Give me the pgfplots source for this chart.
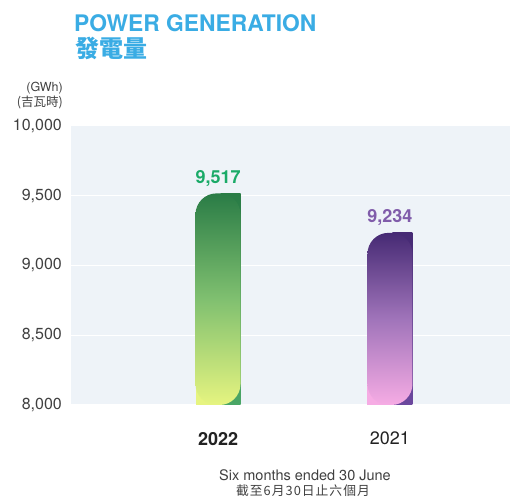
\documentclass[border=0pt]{standalone}
\usepackage{pgfplots}
\pgfplotsset{compat=1.18}
\usepackage{fontspec}
\setmainfont{TeX Gyre Heros}
\newfontfamily\cjk{Noto Sans CJK TC}
\definecolor{titleblue}{RGB}{58,172,228}
\definecolor{axisbg}{RGB}{238,243,248}
\definecolor{ticktext}{RGB}{64,64,64}
\definecolor{labeltext}{RGB}{34,34,34}
\definecolor{gtop}{RGB}{42,124,70}
\definecolor{gmid}{RGB}{128,192,112}
\definecolor{gbot}{RGB}{230,244,128}
\definecolor{gcorner}{RGB}{74,166,102}
\definecolor{gtext}{RGB}{26,170,104}
\definecolor{ptop}{RGB}{70,42,116}
\definecolor{pmid}{RGB}{160,116,186}
\definecolor{pbot}{RGB}{246,172,228}
\definecolor{pcorner}{RGB}{108,72,158}
\definecolor{ptext}{RGB}{128,92,170}
\newcommand{\cjksp}{\kern1pt}
\begin{document}
\begin{tikzpicture}[x=1pt,y=1pt]
\useasboundingbox (0,0) rectangle (510,497);
\begin{axis}[
  at={(71pt,92pt)}, anchor=south west,
  scale only axis, width=439pt, height=279pt,
  xmin=-0.855, xmax=1.698,
  ymin=0, ymax=2000,
  every axis plot/.append style={y filter/.expression={y-8000}},
  axis background/.style={fill=axisbg},
  axis line style={draw=none},
  major tick length=0pt,
  ytick={0,500,1000,1500,2000},
  yticklabels={{8,000},{8,500},{9,000},{9,500},{10,000}},
  ymajorgrids, grid style={white, line width=1pt},
  xtick={0,1}, xticklabels={\textbf{2022},2021},
  yticklabel style={font=\fontsize{16}{16}\selectfont, text=ticktext, inner sep=0pt, xshift=-9pt},
  xticklabel style={font=\fontsize{18}{18}\selectfont, text=labeltext, inner sep=0pt, yshift=-27pt, anchor=north},
]
% 2022 (green)
\addplot[ybar, bar width=20pt, bar shift=12.5pt, draw=none, top color=gtop, bottom color=gcorner] coordinates {(0,9517)};
\addplot[ybar, bar width=20pt, bar shift=-12.5pt, draw=none, fill=gbot] coordinates {(0,8300)};
\addplot[ybar, bar width=45pt, bar shift=0pt, draw=none, rounded corners=21pt,
  top color=gtop, bottom color=gbot, middle color=gmid,
  nodes near coords={9,517},
  every node near coord/.append style={anchor=base, yshift=10pt, inner sep=0pt,
    font=\bfseries\fontsize{18}{18}\selectfont, text=gtext}]
  coordinates {(0,9517)};
% 2021 (purple)
\addplot[ybar, bar width=20pt, bar shift=12.5pt, draw=none, top color=ptop, bottom color=pcorner] coordinates {(1,9234)};
\addplot[ybar, bar width=20pt, bar shift=-12.5pt, draw=none, fill=pbot] coordinates {(1,8300)};
\addplot[ybar, bar width=45pt, bar shift=0pt, draw=none, rounded corners=21pt,
  top color=ptop, bottom color=pbot, middle color=pmid,
  nodes near coords={9,234},
  every node near coord/.append style={anchor=base, yshift=10.5pt, inner sep=0pt,
    font=\bfseries\fontsize{18}{18}\selectfont, text=ptext}]
  coordinates {(1,9234)};
\end{axis}
\node[anchor=base west, inner sep=0pt, font=\bfseries\fontsize{22.8}{22.8}\selectfont, text=titleblue] at (74,465.5) {POWER GENERATION};
\node[anchor=base west, inner sep=0pt, font=\cjk\bfseries\fontsize{24}{24}\selectfont, text=titleblue] at (75,439) {發電量};
\node[anchor=base east, inner sep=0pt, font=\fontsize{12.5}{12.5}\selectfont, text=ticktext] at (63,405) {(GWh)};
\node[anchor=base east, inner sep=0pt, font=\cjk\fontsize{12.5}{12.5}\selectfont, text=ticktext] at (63,390) {(吉瓦時)};
\node[anchor=base, inner sep=0pt, font=\fontsize{14.5}{14.5}\selectfont, text=ticktext] at (305,16.5) {Six months ended 30 June};
\node[anchor=base, inner sep=0pt, font=\cjk\fontsize{12.8}{12.8}\selectfont, text=ticktext] at (303,1.8) {截\cjksp 至\cjksp 6\cjksp 月\cjksp 3\cjksp 0\cjksp 日\cjksp 止\cjksp 六\cjksp 個\cjksp 月};
\end{tikzpicture}
\end{document}
